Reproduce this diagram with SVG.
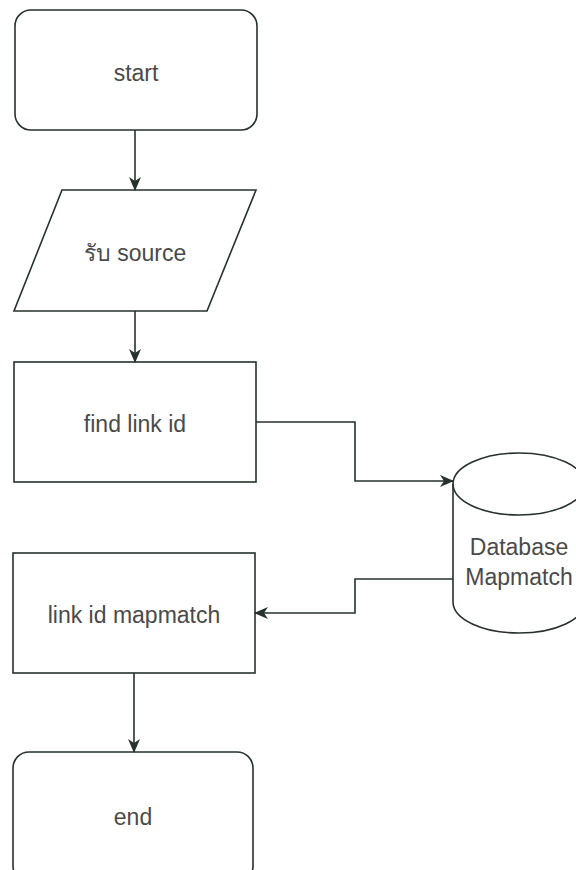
<svg xmlns="http://www.w3.org/2000/svg" width="576" height="870" viewBox="0 0 576 870">
<style>
.s{fill:#fff;stroke:#26322b;stroke-width:1.6}
.c{fill:none;stroke:#26322b;stroke-width:1.6}
.t{font-family:"Liberation Sans",Arial,"Noto Sans",sans-serif;font-size:23px;fill:#4a4a4a;text-anchor:middle;dominant-baseline:central}
</style>
<defs>
<marker id="a" markerWidth="14" markerHeight="12" viewBox="0 0 14 12" refX="13" refY="6" orient="auto" markerUnits="userSpaceOnUse">
<path d="M0,0 L14,6 L0,12 L4,6 Z" fill="#26322b"/>
</marker>
</defs>
<rect width="576" height="870" fill="#fff"/>
<g id="start"><rect class="s" x="15" y="10" width="242" height="120" rx="16"/><text class="t" x="136" y="73">start</text></g>
<g id="input"><polygon class="s" points="62,190 256,190 207,311 14,311"/><text class="t" x="135" y="253">รับ source</text></g>
<g id="find"><rect class="s" x="14" y="362" width="242" height="120"/><text class="t" x="135" y="424">find link id</text></g>
<g id="db"><path class="s" d="M453,484 L453,602 A66,31 0 0 0 585,602 L585,484 A66,31 0 0 0 453,484 Z"/><path class="c" d="M453,484 A66,31 0 0 0 585,484"/><text class="t" x="519" y="547">Database</text><text class="t" x="519" y="577">Mapmatch</text></g>
<g id="mapmatch"><rect class="s" x="13" y="553" width="242" height="120"/><text class="t" x="134" y="615">link id mapmatch</text></g>
<g id="end"><rect class="s" x="13" y="752" width="240" height="130" rx="16"/><text class="t" x="133" y="817">end</text></g>
<g id="connectors">
<path class="c" d="M135,130 L135,190" marker-end="url(#a)"/>
<path class="c" d="M135,311 L135,362" marker-end="url(#a)"/>
<path class="c" d="M256,422 L355,422 L355,481 L453,481" marker-end="url(#a)"/>
<path class="c" d="M453,579 L355,579 L355,613 L255,613" marker-end="url(#a)"/>
<path class="c" d="M134,673 L134,752" marker-end="url(#a)"/>
</g>
</svg>
